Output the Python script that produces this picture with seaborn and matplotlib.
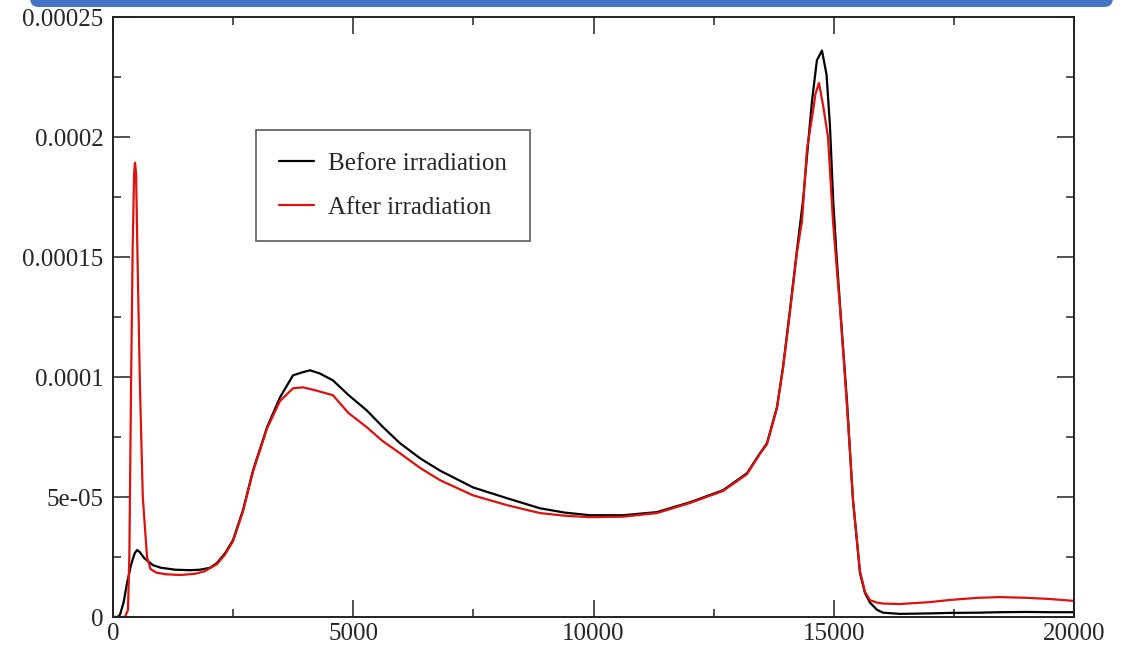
import matplotlib
matplotlib.use("Agg")
import matplotlib.pyplot as plt
import seaborn as sns
from matplotlib.patches import FancyBboxPatch
from matplotlib.ticker import AutoMinorLocator

# Before irradiation (black)
x_before = [0, 100, 146, 220, 291, 380, 450, 500, 560, 650, 832, 1000, 1300, 1600,
            1810, 2020, 2164, 2330, 2497, 2705, 2913, 3205, 3475, 3746, 3950, 4100,
            4300, 4578, 4900, 5286, 5600, 5973, 6400, 6805, 7492, 8199, 8886, 9400,
            9927, 10613, 11320, 12007, 12694, 13194, 13464, 13610, 13818, 13943,
            14089, 14235, 14360, 14470, 14547, 14650, 14755, 14850, 14920, 14990,
            15060, 15130, 15275, 15400, 15546, 15650, 15754, 15900, 16025, 16378,
            17000, 17418, 18000, 18458, 19000, 19498, 20000]
y_before = [0, 0, 0.1, 0.6, 1.41, 2.2, 2.65, 2.79, 2.7, 2.45, 2.16, 2.05, 1.97, 1.95,
            1.97, 2.05, 2.25, 2.65, 3.2, 4.45, 6.1, 7.9, 9.15, 10.07, 10.2, 10.28,
            10.15, 9.86, 9.25, 8.6, 7.95, 7.24, 6.6, 6.1, 5.4, 4.95, 4.53, 4.35,
            4.24, 4.24, 4.37, 4.78, 5.28, 5.99, 6.82, 7.24, 8.74, 10.4,
            12.8, 15.3, 17.35, 19.8, 21.5, 23.2, 23.6, 22.6, 20.5, 17.3,
            15.0, 13.0, 9.0, 4.87, 1.83, 1.0, 0.6, 0.3, 0.18, 0.13,
            0.15, 0.17, 0.18, 0.2, 0.21, 0.2, 0.2]

# After irradiation (red)
x_after = [0, 250, 312, 340, 375, 410, 440, 458, 480, 510, 562, 620, 708, 780, 900,
           1100, 1400, 1700, 1900, 2164, 2330, 2497, 2705, 2913, 3205, 3475, 3746,
           3954, 4200, 4578, 4900, 5286, 5600, 5973, 6400, 6805, 7492, 8199, 8886,
           9400, 9927, 10613, 11320, 12007, 12694, 13194, 13464, 13610, 13818, 13943,
           14089, 14235, 14339, 14443, 14547, 14620, 14692, 14780, 14880, 14984,
           15060, 15130, 15275, 15400, 15546, 15650, 15754, 15900, 16025, 16378,
           17000, 17418, 18000, 18458, 19000, 19498, 20000]
y_after = [0, 0, 0.3, 2.5, 9.5, 15.5, 18.5, 18.93, 18.5, 15.0, 9.5, 5.0, 2.5, 2.0, 1.85,
           1.78, 1.75, 1.8, 1.9, 2.2, 2.6, 3.15, 4.4, 6.05, 7.85, 9.0, 9.53,
           9.57, 9.45, 9.24, 8.5, 7.9, 7.35, 6.82, 6.2, 5.7, 5.07, 4.66, 4.33,
           4.22, 4.16, 4.18, 4.33, 4.75, 5.25, 5.95, 6.8, 7.2, 8.7, 10.35,
           12.7, 15.2, 16.5, 19.5, 20.8, 21.8, 22.25, 21.3, 20.0, 16.5,
           14.6, 12.9, 8.8, 4.9, 1.9, 1.05, 0.7, 0.6, 0.56, 0.54,
           0.62, 0.71, 0.8, 0.83, 0.8, 0.75, 0.67]

y_scale = 1e-5
x_ticks = [0, 5000, 10000, 15000, 20000]
y_ticks = [0, 5e-05, 0.0001, 0.00015, 0.0002, 0.00025]
y_tick_labels = ["0", "5e-05", "0.0001", "0.00015", "0.0002", "0.00025"]

sns.set_style("ticks")
plt.rcParams['font.family'] = ['Liberation Serif', 'DejaVu Serif']

fig = plt.figure(figsize=(11.29, 6.47), dpi=100)
ax = fig.add_axes([113 / 1129, 1 - 617 / 647, (1074 - 113) / 1129, 600 / 647])

sns.lineplot(x=x_before, y=[v * y_scale for v in y_before], ax=ax, color="black",
             linewidth=1.6, label="Before irradiation")
sns.lineplot(x=x_after, y=[v * y_scale for v in y_after], ax=ax, color="#e0100c",
             linewidth=1.6, label="After irradiation")

ax.set_xlim(0, 20000)
ax.set_ylim(0, 0.00025)
ax.set_xticks(x_ticks, [str(t) for t in x_ticks])
ax.set_yticks(y_ticks, y_tick_labels)
ax.xaxis.set_minor_locator(AutoMinorLocator(2))
ax.yaxis.set_minor_locator(AutoMinorLocator(2))
ax.tick_params(which="both", direction="in", top=True, right=True, width=1.2,
               color="#333333", labelsize=18)
ax.tick_params(which="major", length=12)
ax.tick_params(which="minor", length=6)
ax.tick_params(axis="x", pad=4)
ax.tick_params(axis="y", pad=7)
for s in ax.spines.values():
    s.set_linewidth(1.4)
    s.set_color("#222222")
ax.set_xlabel("")
ax.set_ylabel("")

leg = ax.legend(loc="upper left", bbox_to_anchor=((256 - 113) / 961, (617 - 130) / 600),
                borderaxespad=0, frameon=True, fancybox=False, shadow=False,
                fontsize=18, handlelength=1.4, handletextpad=0.6, borderpad=0.9,
                labelspacing=0.84, edgecolor="#333333")
leg.get_frame().set_linewidth(1.2)

# blue slide bar at top
bar = FancyBboxPatch((30, 640), 1083, 40, boxstyle="round,pad=0,rounding_size=9",
                     facecolor="#4472C4", edgecolor="none", transform=None)
fig.add_artist(bar)

fig.savefig("out.png", dpi=100)
